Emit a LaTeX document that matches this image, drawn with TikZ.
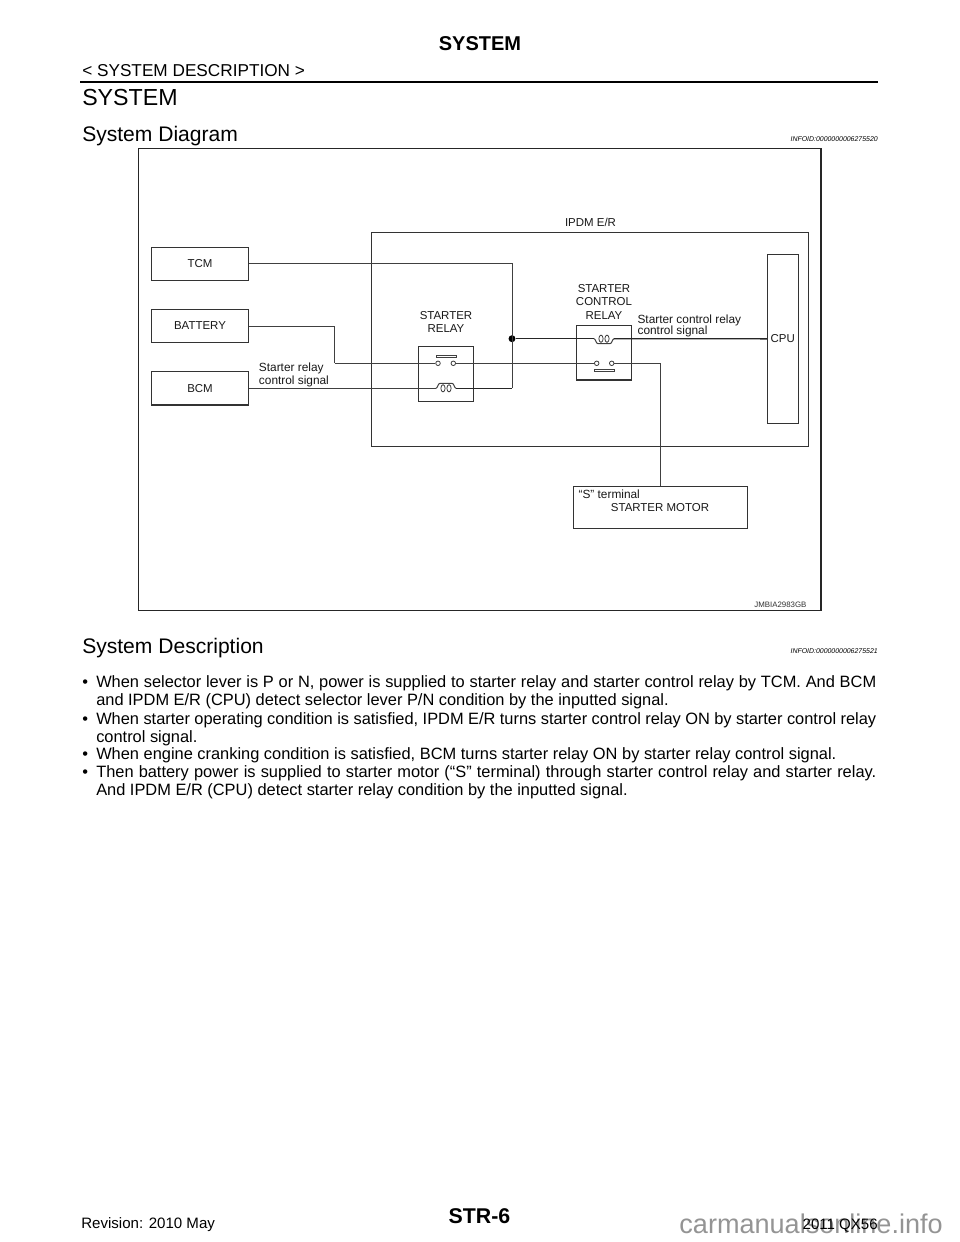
\documentclass[tikz,border=0pt]{standalone}
\usepackage{fontspec}
\setmainfont{Liberation Sans}
\newcommand{\fs}[1]{\fontsize{#1}{#1}\selectfont}
\newcommand{\jline}[1]{\makebox[585pt][s]{#1}}
\tikzset{
 x=0.75pt,y=-0.75pt,
 box/.style={draw=black!80,line width=0.8pt,inner sep=0pt},
 wire/.style={draw=black!75,line width=0.75pt},
 heavywire/.style={draw=black!85,line width=1.05pt},
 lbl/.style={inner sep=0pt,font=\fs{8.6},text=black!90,align=center},
 lbll/.style={inner sep=0pt,font=\fs{8.9},text=black!90,anchor=base west},
 page/.style={inner sep=0pt,text=black},
 bodyline/.style={inner sep=0pt,text=black,font=\fs{12.3},anchor=base west},
 contact/.style={draw=black!75,line width=0.6pt,fill=white,circle,inner sep=0pt,minimum size=3.4pt},
 barbox/.style={draw=black!75,line width=0.6pt,fill=white},
}
% #1 x centre, #2 wire y, #3 direction of the arch (-1 up, 1 down)
\newcommand{\coil}[3]{%
 \draw[wire] (#1-10,#2) .. controls (#1-8.5,#2) and (#1-8,#2+#3*5) .. (#1-6,#2+#3*5)
   -- (#1+6,#2+#3*5) .. controls (#1+8,#2+#3*5) and (#1+8.5,#2) .. (#1+10,#2);
 \draw[black!75,line width=0.6pt] (#1-3,#2) ellipse (2.1 and 3.6) (#1+3,#2) ellipse (2.1 and 3.6);
}
\begin{document}
\begin{tikzpicture}
\useasboundingbox[fill=white] (0,0) rectangle (960,1242);
% page text
\node[page,font=\fs{15}\bfseries] (title) at (480,44) {SYSTEM};
\node[page,font=\fs{12.9},anchor=base west] (desc) at (82,76) {< SYSTEM DESCRIPTION >};
\coordinate (ruleA) at (80,82); \coordinate (ruleB) at (878,82);
\draw[line width=1.9pt,black] (ruleA) -- (ruleB);
\node[page,font=\fs{17.4},anchor=base west] (h1) at (82,105) {SYSTEM};
\node[page,font=\fs{15.8},anchor=base west] (h2) at (82,141) {System Diagram};
\node[page,font=\fs{5.2}\itshape,anchor=base east] (id1) at (878,141) {INFOID:0000000006275520};
\node[page,font=\fs{15.8},anchor=base west] (h3) at (82,653) {System Description};
\node[page,font=\fs{5.2}\itshape,anchor=base east] (id2) at (878,653) {INFOID:0000000006275521};
% body
\node[bodyline] (b1) at (82,687) {•};
\node[bodyline] (l1) at (96,687) {\jline{When selector lever is P or N, power is supplied to starter relay and starter control relay by TCM. And BCM}};
\node[bodyline] (l2) at (96,705) {and IPDM E/R (CPU) detect selector lever P/N condition by the inputted signal.};
\node[bodyline] (b3) at (82,724) {•};
\node[bodyline] (l3) at (96,724) {\jline{When starter operating condition is satisfied, IPDM E/R turns starter control relay ON by starter control relay}};
\node[bodyline] (l4) at (96,742) {control signal.};
\node[bodyline] (b5) at (82,759) {•};
\node[bodyline] (l5) at (96,759) {When engine cranking condition is satisfied, BCM turns starter relay ON by starter relay control signal.};
\node[bodyline] (b6) at (82,777) {•};
\node[bodyline] (l6) at (96,777) {\jline{Then battery power is supplied to starter motor (“S” terminal) through starter control relay and starter relay.}};
\node[bodyline] (l7) at (96,795) {And IPDM E/R (CPU) detect starter relay condition by the inputted signal.};
% footer
\node[page,font=\fs{11.3},anchor=base west] (rev) at (81,1228.5) {Revision: 2010 May};
\node[page,font=\fs{16}\bfseries,anchor=base] (str) at (479.5,1223) {STR-6};
\node[page,font=\fs{20.3},text=black!42,anchor=base east] (wm) at (943,1233) {carmanualsonline.info};
\node[page,font=\fs{11.3},anchor=base east] (model) at (878,1229) {2011 QX56};
% diagram frame
\draw[line width=1.4pt,black!85] (138.5,148.5) rectangle (820.7,610.5);
\node[lbl] (ipdmlbl) at (590.5,222.3) {IPDM E/R};
\draw[box] (371.7,232.3) rectangle (808.3,446.7);
% boxes
\node[box,lbl,draw=black!80,minimum width=72.5pt,minimum height=24.8pt] (tcm) at (200,263.8) {TCM};
\node[box,lbl,draw=black!80,minimum width=72.5pt,minimum height=25pt] (battery) at (200,326) {BATTERY};
\node[box,lbl,draw=black!80,minimum width=72.5pt,minimum height=25pt] (bcm) at (200,388.3) {BCM};
\node[box,minimum width=41pt,minimum height=41.2pt] (srelay) at (446,374.2) {};
\node[box,minimum width=41.2pt,minimum height=40.8pt] (crelay) at (604.2,352.8) {};
\node[box,lbl,draw=black!80,minimum width=23.2pt,minimum height=126.8pt] (cpu) at (782.8,338.8) {CPU};
\node[box,minimum width=130.8pt,minimum height=31pt] (motor) at (660.5,507.6) {};
% wiring coordinates
\coordinate (bk) at (334.7,363.3);
\coordinate (jc) at (512,388.3);
\coordinate (rcl) at (436,388.3);
\coordinate (rcr) at (456,388.3);
\coordinate (ccl) at (594,338.7);
\coordinate (ccr) at (614,338.7);
\node[circle,fill=black,inner sep=0pt,minimum size=5.2pt] (jn) at (512,338.7) {};
\node[contact] (c1) at (438,363.3) {};
\node[contact] (c2) at (453.3,363.3) {};
\node[contact] (c3) at (596.7,363.3) {};
\node[contact] (c4) at (611.7,363.3) {};
% connectors
\draw[wire] (battery.east) -| (bk);
\draw[wire] (bk) -- (c1.west);
\draw[wire] (c2.east) -- (c3.west);
\draw[wire] (c4.east) -| (motor.north);
\draw[wire] (tcm.east) -| (jc);
\draw[heavywire] (jc) -- (rcr);
\draw[wire] (bcm.east) -- (rcl);
\draw[heavywire] (jn) -- (ccl);
\draw[heavywire] (ccr) -- (cpu.west);
% relay symbols
\coil{446}{388.3}{-1}
\coil{604}{338.7}{1}
\draw[barbox] (436,355.7) rectangle (456.5,357.7);
\draw[barbox] (594,369) rectangle (614.3,371);
% labels
\node[lbl] (s1) at (446,315.3) {STARTER};
\node[lbl] (s2) at (446,328.7) {RELAY};
\node[lbl] (k1) at (604,288.7) {STARTER};
\node[lbl] (k2) at (604,301.7) {CONTROL};
\node[lbl] (k3) at (604,315.3) {RELAY};
\node[lbll] (t1) at (258.7,371) {Starter relay};
\node[lbll] (t2) at (258.7,384) {control signal};
\node[lbll] (t3) at (637.3,323.3) {Starter control relay};
\node[lbll] (t4) at (637.3,334.3) {control signal};
\node[lbll] (t5) at (578.3,498.7) {“S” terminal};
\node[lbl] (t6) at (660,507.7) {STARTER MOTOR};
\node[page,font=\fs{5.9},text=black!80,anchor=base east] (code) at (806.7,607.3) {JMBIA2983GB};
\end{tikzpicture}
\end{document}
